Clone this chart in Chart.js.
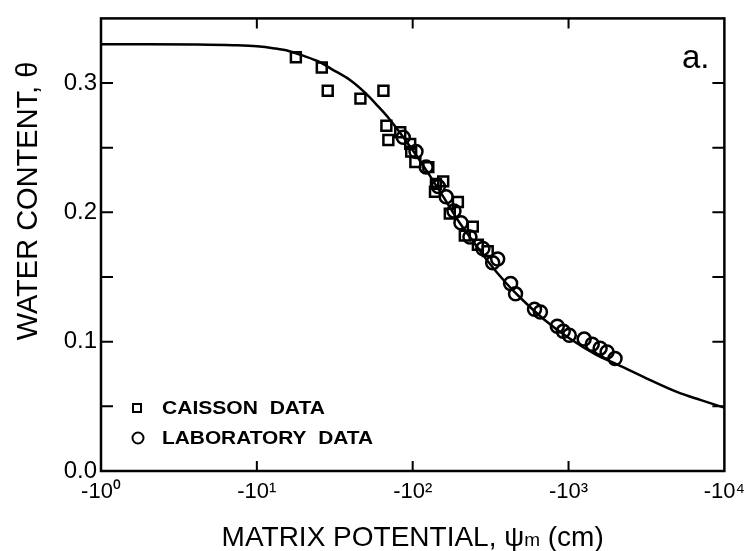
<!DOCTYPE html>
<html>
<head>
<meta charset="utf-8">
<script src="https://cdn.jsdelivr.net/npm/chart.js@4"></script>
<style>
  html, body { margin: 0; padding: 0; background: #fff; }
</style>
</head>
<body>
<canvas id="chart" width="753" height="551"></canvas>
<script>
// fitted retention curve: |matric potential| (cm) vs water content
const fitPsi   = [1, 2, 4, 7, 10, 13, 16, 20, 25, 30, 40, 50, 60, 70, 80, 100, 120, 150, 200, 250, 300, 400, 500, 700, 1000, 1500, 2000, 3000, 5000, 7000, 10000];
const fitTheta = [0.330, 0.330, 0.3298, 0.3293, 0.3285, 0.3268, 0.3248, 0.321, 0.3165, 0.311, 0.302, 0.292, 0.282, 0.273, 0.264, 0.248, 0.234, 0.216, 0.192, 0.176, 0.163, 0.145, 0.133, 0.117, 0.103, 0.090, 0.083, 0.073, 0.061, 0.055, 0.049];

// caisson measurements
const caissonPsi   = [17.8, 26.1, 28.5, 46.2, 64.9, 67.8, 69.8, 83.2, 96.4, 97.8, 104, 126, 141, 139, 157, 173, 195, 216, 243, 262, 303];
const caissonTheta = [0.320, 0.312, 0.294, 0.288, 0.294, 0.267, 0.256, 0.262, 0.253, 0.247, 0.239, 0.235, 0.222, 0.216, 0.224, 0.199, 0.208, 0.182, 0.189, 0.175, 0.170];

// laboratory measurements
const labPsi   = [87, 105, 122, 146, 164, 184, 204, 233, 282, 326, 351, 425, 457, 605, 660, 847, 925, 1011, 1260, 1420, 1595, 1767, 1988];
const labTheta = [0.258, 0.247, 0.235, 0.220, 0.212, 0.201, 0.192, 0.181, 0.172, 0.161, 0.164, 0.145, 0.137, 0.125, 0.123, 0.112, 0.108, 0.105, 0.102, 0.098, 0.095, 0.092, 0.087];

const xTicks = [1, 10, 100, 1000, 10000];
const xTickLabels = ['-10⁰', '-10¹', '-10²', '-10³', '-10⁴'];
const yTicks = [0, 0.05, 0.10, 0.15, 0.20, 0.25, 0.30, 0.35];
const yTickLabels = ['0.0', '', '0.1', '', '0.2', '', '0.3', ''];

const FONT = '"Liberation Sans", Arial, sans-serif';

const zip = (xs, ys) => xs.map((x, i) => ({ x: x, y: ys[i] }));

// write text stretched horizontally to a given width
function wideText(ctx, text, x, y, width) {
  const w = ctx.measureText(text).width;
  ctx.save();
  ctx.translate(x, y);
  ctx.scale(width / w, 1);
  ctx.fillText(text, 0, 0);
  ctx.restore();
}

// frame, inward ticks, legend, panel letter and axis titles
const decorations = {
  id: 'decorations',
  afterDraw(chart) {
    const ctx = chart.ctx;
    const a = chart.chartArea;
    const xs = chart.scales.x, ys = chart.scales.y;
    ctx.save();
    ctx.strokeStyle = '#000';
    ctx.lineWidth = 2.5;
    ctx.strokeRect(a.left, a.top, a.right - a.left, a.bottom - a.top);

    ctx.lineWidth = 2;
    ctx.beginPath();
    xTicks.slice(1, -1).forEach(v => {
      const px = xs.getPixelForValue(v);
      ctx.moveTo(px, a.bottom); ctx.lineTo(px, a.bottom - 10);
      ctx.moveTo(px, a.top);    ctx.lineTo(px, a.top + 10);
    });
    yTicks.slice(1, -1).forEach(v => {
      const py = ys.getPixelForValue(v);
      ctx.moveTo(a.left, py);  ctx.lineTo(a.left + 12, py);
      ctx.moveTo(a.right, py); ctx.lineTo(a.right - 12, py);
    });
    ctx.stroke();

    // legend
    ctx.lineWidth = 2;
    ctx.strokeRect(133, 404, 8, 8);
    ctx.beginPath();
    ctx.arc(138, 438, 5.5, 0, Math.PI * 2);
    ctx.stroke();
    ctx.fillStyle = '#000';
    ctx.font = 'bold 19px ' + FONT;
    ctx.textBaseline = 'middle';
    ctx.textAlign = 'left';
    wideText(ctx, 'CAISSON  DATA', 162, 409, 163);
    wideText(ctx, 'LABORATORY  DATA', 162, 439, 211);

    // panel letter
    ctx.font = '33px ' + FONT;
    ctx.textBaseline = 'alphabetic';
    ctx.fillText('a.', 682, 68);

    // x title with subscript m
    const p1 = 'MATRIX POTENTIAL, ψ';
    const p3 = ' (cm)';
    ctx.font = '19px ' + FONT;
    const wm = ctx.measureText('m').width;
    ctx.font = '28px ' + FONT;
    const w1 = ctx.measureText(p1).width, w3 = ctx.measureText(p3).width;
    const x0 = (a.left + a.right) / 2 - (w1 + wm + w3) / 2;
    ctx.fillText(p1, x0, 546);
    ctx.font = '19px ' + FONT;
    ctx.fillText('m', x0 + w1, 546);
    ctx.font = '28px ' + FONT;
    ctx.fillText(p3, x0 + w1 + wm, 546);

    // y title
    ctx.translate(37, 201);
    ctx.rotate(-Math.PI / 2);
    ctx.textAlign = 'center';
    ctx.font = '29px ' + FONT;
    ctx.fillText('WATER CONTENT, θ', 0, 0);
    ctx.restore();
  }
};

new Chart(document.getElementById('chart'), {
  type: 'scatter',
  data: {
    datasets: [
      {
        label: 'fit',
        data: zip(fitPsi, fitTheta),
        showLine: true,
        pointRadius: 0,
        borderColor: '#000',
        borderWidth: 2.5,
        cubicInterpolationMode: 'monotone'
      },
      {
        label: 'CAISSON DATA',
        data: zip(caissonPsi, caissonTheta),
        pointStyle: 'rect',
        pointRadius: 7,
        borderWidth: 2.5,
        borderColor: '#000',
        backgroundColor: 'rgba(255,255,255,0)'
      },
      {
        label: 'LABORATORY DATA',
        data: zip(labPsi, labTheta),
        pointStyle: 'circle',
        pointRadius: 6.5,
        borderWidth: 2.5,
        borderColor: '#000',
        backgroundColor: 'rgba(255,255,255,0)'
      }
    ]
  },
  options: {
    responsive: false,
    animation: false,
    layout: { padding: { top: 17, right: 25, left: 0, bottom: 0 } },
    plugins: { legend: { display: false }, tooltip: { enabled: false } },
    scales: {
      x: {
        type: 'logarithmic',
        min: 1,
        max: 10000,
        grid: { display: false, drawTicks: false },
        border: { display: false },
        afterBuildTicks: s => { s.ticks = xTicks.map(v => ({ value: v })); },
        afterFit: s => { s.height = 80; },
        ticks: {
          color: '#000',
          padding: 8,
          maxRotation: 0,
          autoSkip: false,
          font: { family: FONT, size: 22 },
          callback: (v, i) => xTickLabels[i]
        }
      },
      y: {
        min: 0,
        max: 0.35,
        grid: { display: false, drawTicks: false },
        border: { display: false },
        afterBuildTicks: s => { s.ticks = yTicks.map(v => ({ value: v })); },
        afterFit: s => { s.width = 101; },
        ticks: {
          color: '#000',
          padding: 4,
          font: { family: FONT, size: 24 },
          callback: (v, i) => yTickLabels[i]
        }
      }
    }
  },
  plugins: [decorations]
});
</script>
</body>
</html>
